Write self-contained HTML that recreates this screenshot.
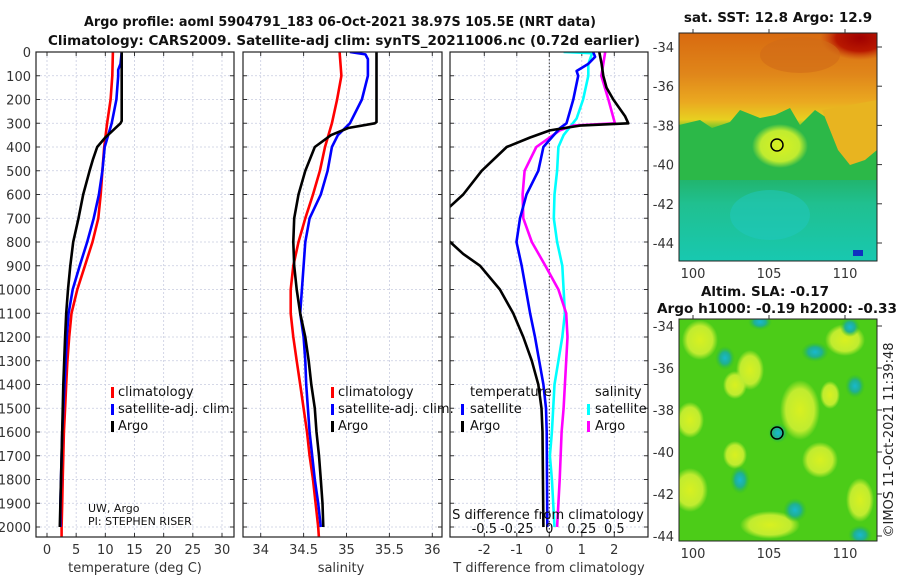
<!DOCTYPE html>
<html><head><meta charset="utf-8"><title>Argo profile</title>
<style>
html,body{margin:0;padding:0;background:#fff;}
svg{display:block;font-family:"DejaVu Sans","Liberation Sans",sans-serif;}
.tk{font-size:13px;fill:#333;}
.lg{font-size:13px;fill:#111;}
.tt{font-size:13.5px;font-weight:bold;fill:#111;font-family:"DejaVu Sans","Liberation Sans",sans-serif;}
</style></head>
<body>
<svg id="fig" width="900" height="580" viewBox="0 0 900 580" xmlns="http://www.w3.org/2000/svg">
<defs>
<clipPath id="c1"><rect x="36" y="52" width="198" height="485"/></clipPath>
<clipPath id="c2"><rect x="243" y="52" width="199" height="485"/></clipPath>
<clipPath id="c3"><rect x="450" y="52" width="198" height="485"/></clipPath>
<clipPath id="cm1"><rect x="679" y="33" width="198" height="228"/></clipPath>
<clipPath id="cm2"><rect x="679" y="319" width="198" height="222"/></clipPath>
<linearGradient id="sstg" x1="0" y1="0" x2="0" y2="1">
<stop offset="0" stop-color="#d86a10"/><stop offset="0.18" stop-color="#e0861a"/><stop offset="0.3" stop-color="#eaa820"/>
<stop offset="0.38" stop-color="#e8d020"/><stop offset="0.43" stop-color="#3cc030"/><stop offset="0.6" stop-color="#22b060"/>
<stop offset="0.75" stop-color="#20c090"/><stop offset="1" stop-color="#18c8b0"/></linearGradient>
<radialGradient id="yb"><stop offset="0" stop-color="#d8f020"/><stop offset="0.7" stop-color="#c0ec30"/><stop offset="1" stop-color="#c0ec30" stop-opacity="0"/></radialGradient>
<radialGradient id="tb"><stop offset="0" stop-color="#18b8d0"/><stop offset="0.5" stop-color="#20b090"/><stop offset="1" stop-color="#30c020" stop-opacity="0"/></radialGradient>
<radialGradient id="rb"><stop offset="0" stop-color="#a00000"/><stop offset="0.6" stop-color="#b81800"/><stop offset="1" stop-color="#c84010" stop-opacity="0"/></radialGradient>
</defs>
<g id="root"></g>
</svg>
<script>
// ---- temperature panel data ----
const tDepth = [0,100,200,300,400,500,600,700,800,900,1000,1100,1200,1300,1400,1500,1600,1700,1800,1900,2000,2050];
const tClim = [11.3,11.2,10.9,10.3,9.8,9.5,9.2,8.8,7.8,6.5,5.2,4.2,3.8,3.5,3.3,3.1,2.9,2.8,2.7,2.6,2.5,2.5];
const tSatDepth = [0,50,75,100,200,300,350,400,500,600,700,800,900,1000,1100,1200,1300,1400,1500,1600,1700,1800,1900,2000];
const tSat = [12.8,12.6,12.2,12.2,11.9,11.1,10.5,9.9,9.5,8.9,8.0,6.9,5.6,4.4,3.7,3.4,3.2,3.0,2.8,2.6,2.5,2.4,2.3,2.3];
const tArgoDepth = [0,290,300,330,360,400,450,500,600,700,800,900,1000,1100,1200,1400,1600,1800,2000];
const tArgo = [12.8,12.8,12.6,11.3,10.0,8.6,7.9,7.3,6.2,5.4,4.5,4.0,3.6,3.3,3.1,2.8,2.6,2.4,2.2];
// ---- salinity panel data ----
const sClimDepth = [0,100,200,300,400,500,600,700,800,900,1000,1100,1200,1300,1400,1500,1600,1700,1800,1900,2000,2050];
const sClim = [34.92,34.94,34.89,34.83,34.75,34.69,34.61,34.52,34.44,34.38,34.35,34.35,34.38,34.42,34.46,34.50,34.54,34.57,34.61,34.64,34.67,34.68];
const sSatDepth = [0,10,30,100,200,300,350,400,500,600,700,800,900,1000,1100,1200,1300,1400,1500,1600,1700,1800,1900,2000];
const sSat = [35.04,35.22,35.25,35.25,35.18,35.04,34.90,34.83,34.78,34.70,34.57,34.52,34.50,34.48,34.46,34.50,34.52,34.53,34.55,34.57,34.60,34.63,34.67,34.70];
const sArgoDepth = [0,295,300,320,350,400,500,600,700,800,900,1000,1100,1200,1300,1400,1500,1600,1700,1800,1900,2000];
const sArgo = [35.35,35.35,35.33,35.02,34.82,34.63,34.52,34.44,34.39,34.38,34.39,34.42,34.46,34.52,34.56,34.59,34.63,34.65,34.68,34.70,34.72,34.73];
// ---- difference panel data ----
const dTArgoDepth = [0,50,100,150,200,270,300,310,330,360,400,500,600,650,700,750,800,850,900,1000,1100,1200,1300,1400,1500,1600,2000];
const dTArgo = [1.54,1.61,1.66,1.76,1.97,2.33,2.43,0.94,0.02,-0.59,-1.31,-2.08,-2.65,-3.05,-3.6,-3.6,-3.05,-2.65,-2.13,-1.52,-1.11,-0.8,-0.54,-0.34,-0.24,-0.21,-0.18];
const dTSatDepth = [0,20,50,80,100,200,300,320,400,500,600,700,800,900,1000,1100,1200,1300,1400,1500,1600,2000];
const dTSat = [1.35,1.41,1.2,0.84,0.89,0.74,0.53,0.33,-0.18,-0.34,-0.70,-0.90,-1.01,-0.85,-0.72,-0.59,-0.44,-0.31,-0.18,-0.10,-0.08,-0.06];
const dSSatDepth = [0,5,50,100,200,280,350,400,500,600,700,800,900,1000,1100,1200,1300,1400,1500,1600,1700,1800,1900,2000];
const dSSat = [0.11,0.33,0.30,0.30,0.26,0.21,0.11,0.07,0.06,0.04,0.035,0.06,0.10,0.11,0.12,0.10,0.07,0.04,0.03,0.02,0.005,0.02,0.03,0.04];
const dSArgoDepth = [0,50,100,200,300,310,330,400,500,600,700,800,900,1000,1100,1200,1300,1400,1500,1600,1800,2000];
const dSArgo = [0.43,0.415,0.40,0.455,0.505,0.185,0.08,-0.10,-0.19,-0.205,-0.20,-0.135,-0.03,0.07,0.13,0.14,0.13,0.12,0.11,0.095,0.08,0.06];
// ---- tick labels ----
const depthTicks = [0,100,200,300,400,500,600,700,800,900,1000,1100,1200,1300,1400,1500,1600,1700,1800,1900,2000];
const tTicks = [0,5,10,15,20,25,30];
const sTicks = [34,34.5,35,35.5,36];
const dTTicks = [-2,-1,0,1,2];
const dSTicks = [-0.5,-0.25,0,0.25,0.5];
const dSTickLabels = ["-0.5","-0.25","0","0.25","0.5"];
const latTicks = [-34,-36,-38,-40,-42,-44];
const lonTicks = [100,105,110];

const NS = "http://www.w3.org/2000/svg";
const root = document.getElementById('root');
function mk(tag, attrs, parent){const e=document.createElementNS(NS,tag);for(const k in attrs)e.setAttribute(k,attrs[k]);(parent||root).appendChild(e);return e;}
const TOP=52, BOT=537;
const yD = d => TOP + d*0.2375;
const xT = t => 47 + t*5.833;
const xS = s => 260.7 + (s-34)*85.8;
const xD = t => 549.3 + t*32.5;
const xDS = s => 549.3 + s*130;

function panel(name,x0,x1,xticks,xf,clip){
  const g = mk('g',{});
  
  
  for(const d of depthTicks){
    const l = mk('line',{x1:x0,x2:x1,y1:yD(d),y2:yD(d),stroke:'#c8cce0','stroke-width':0.8,'stroke-dasharray':'2,2'},g);
    
    
    const t1 = mk('line',{x1:x0,x2:x0+4,y1:yD(d),y2:yD(d),stroke:'#333'},g);
    
    
    const t2 = mk('line',{x1:x1-4,x2:x1,y1:yD(d),y2:yD(d),stroke:'#333'},g);
    
    
  }
  for(const v of xticks){
    const l = mk('line',{x1:xf(v),x2:xf(v),y1:TOP,y2:BOT,stroke:'#c8cce0','stroke-width':0.8,'stroke-dasharray':'2,2'},g);
    
    
    const t1 = mk('line',{x1:xf(v),x2:xf(v),y1:BOT,y2:BOT-4,stroke:'#333'},g);
    
    
    const t2 = mk('line',{x1:xf(v),x2:xf(v),y1:TOP,y2:TOP+4,stroke:'#333'},g);
    
    
  }
  return g;
}
function series(name,depths,vals,xf,color,clip){
  let d='';
  for(let i=0;i<vals.length;i++){d+=(i?'L':'M')+xf(vals[i]).toFixed(1)+','+yD(depths[i]).toFixed(1);}
  const p = mk('path',{d:d,fill:'none',stroke:color,'stroke-width':2.6,'stroke-linejoin':'round','clip-path':'url(#'+clip+')'});
  
  
}
function frame(name,x0,x1){
  const r = mk('rect',{x:x0,y:TOP,width:x1-x0,height:BOT-TOP,fill:'none',stroke:'#222','stroke-width':1.2});
  
  
}
function text(name,x,y,str,cls,anchor,extra){
  const t = mk('text',Object.assign({x:x,y:y,'class':cls,'text-anchor':anchor||'start'},extra||{}));
  t.textContent = str;
  
  
  return t;
}
function legendMark(x,y,color){
  const m = mk('rect',{x:x,y:y-9,width:3,height:11,fill:color});
  
  
}

// titles
text('title-line-1',340,26,'Argo profile: aoml 5904791_183 06-Oct-2021 38.97S 105.5E (NRT data)','tt','middle',{textLength:512,lengthAdjust:'spacingAndGlyphs'});
text('title-line-2',344,45,'Climatology: CARS2009. Satellite-adj clim: synTS_20211006.nc (0.72d earlier)','tt','middle',{textLength:592,lengthAdjust:'spacingAndGlyphs'});

// panel 1 temperature
panel('temperature-panel',36,234,tTicks,xT,'c1');
series('temperature-climatology-line',tDepth,tClim,xT,'#ff0000','c1');
series('temperature-satellite-line',tSatDepth,tSat,xT,'#0000ff','c1');
series('temperature-argo-line',tArgoDepth,tArgo,xT,'#000000','c1');
frame('temperature-axes-frame',36,234);
for(const d of depthTicks) text('depth-tick-label',31,yD(d)+5,String(d),'tk','end');
for(const v of tTicks) text('temperature-tick-label',xT(v),554,String(v),'tk','middle');
text('temperature-axis-title',135,572,'temperature (deg C)','tk','middle');
legendMark(111,396,'#ff0000'); text('legend-climatology',118,396,'climatology','lg');
legendMark(111,413,'#0000ff'); text('legend-satellite-adj-clim',118,413,'satellite-adj. clim.','lg');
legendMark(111,430,'#000000'); text('legend-argo',118,430,'Argo','lg');
text('credit-uw-argo',88,512,'UW, Argo','tk','start',{style:'font-size:11px;fill:#111'});
text('credit-pi',88,525,'PI: STEPHEN RISER','tk','start',{style:'font-size:11px;fill:#111'});

// panel 2 salinity
panel('salinity-panel',243,442,sTicks,xS,'c2');
series('salinity-climatology-line',sClimDepth,sClim,xS,'#ff0000','c2');
series('salinity-satellite-line',sSatDepth,sSat,xS,'#0000ff','c2');
series('salinity-argo-line',sArgoDepth,sArgo,xS,'#000000','c2');
frame('salinity-axes-frame',243,442);
for(const v of sTicks) text('salinity-tick-label',xS(v),554,String(v),'tk','middle');
text('salinity-axis-title',341,572,'salinity','tk','middle');
legendMark(331,396,'#ff0000'); text('legend-climatology',338,396,'climatology','lg');
legendMark(331,413,'#0000ff'); text('legend-satellite-adj-clim',338,413,'satellite-adj. clim.','lg');
legendMark(331,430,'#000000'); text('legend-argo',338,430,'Argo','lg');

// panel 3 differences
panel('difference-panel',450,648,dTTicks,xD,'c3');
const zl = mk('line',{x1:xD(0),x2:xD(0),y1:TOP,y2:BOT,stroke:'#333','stroke-width':1,'stroke-dasharray':'1.5,2'});


series('salinity-diff-satellite-line',dSSatDepth,dSSat,xDS,'#00ffff','c3');
series('salinity-diff-argo-line',dSArgoDepth,dSArgo,xDS,'#ff00ff','c3');
series('temperature-diff-satellite-line',dTSatDepth,dTSat,xD,'#0000ff','c3');
series('temperature-diff-argo-line',dTArgoDepth,dTArgo,xD,'#000000','c3');
frame('difference-axes-frame',450,648);
for(const v of dTTicks) text('t-diff-tick-label',xD(v),554,String(v),'tk','middle');
text('t-diff-axis-title',549,572,'T difference from climatology','tk','middle');
text('s-diff-axis-title',548,519,'S difference from climatology','lg','middle');
for(let i=0;i<dSTicks.length;i++) text('s-diff-tick-label',xDS(dSTicks[i]),533,dSTickLabels[i],'lg','middle');
text('legend-temperature-heading',470,396,'temperature','lg');
legendMark(461,413,'#0000ff'); text('legend-t-satellite',470,413,'satellite','lg');
legendMark(461,430,'#000000'); text('legend-t-argo',470,430,'Argo','lg');
text('legend-salinity-heading',595,396,'salinity','lg');
legendMark(587,413,'#00ffff'); text('legend-s-satellite',595,413,'satellite','lg');
legendMark(587,430,'#ff00ff'); text('legend-s-argo',595,430,'Argo','lg');

// maps
const lonX = lon => 693 + (lon-100)*15.2;
function mapAxes(name,top,bot,latY){
  const r = mk('rect',{x:679,y:top,width:198,height:bot-top,fill:'none',stroke:'#222','stroke-width':1});
  
  
  for(const la of latTicks){
    const y = latY(la);
    text('map-lat-label',674,y+5,String(la),'tk','end');
    const t = mk('line',{x1:877,x2:882,y1:y,y2:y,stroke:'#333'});
    
    
  }
  for(const lo of lonTicks){
    text('map-lon-label',lonX(lo),bot+17,String(lo),'tk','middle');
    const t = mk('line',{x1:lonX(lo),x2:lonX(lo),y1:top-4,y2:top,stroke:'#333'});
    
    
  }
}
// SST map
const sstG = mk('g',{'clip-path':'url(#cm1)'});


mk('rect',{x:679,y:33,width:198,height:228,fill:'url(#sstg)'},sstG);
mk('path',{d:'M679,125 L700,120 L712,128 L730,122 L740,110 L760,118 L775,115 L790,108 L800,125 L815,110 L830,120 L840,128 L855,120 L877,115 L877,180 L679,180 Z',fill:'#2cb848'},sstG);
mk('path',{d:'M822,110 L850,105 L877,100 L877,150 L865,160 L850,165 L838,150 L830,130 Z',fill:'#e8b420'},sstG);
mk('ellipse',{cx:780,cy:146,rx:28,ry:22,fill:'url(#yb)'},sstG);
mk('ellipse',{cx:860,cy:38,rx:40,ry:22,fill:'url(#rb)'},sstG);
mk('ellipse',{cx:800,cy:55,rx:40,ry:18,fill:'#d06a18',opacity:0.6},sstG);
mk('ellipse',{cx:770,cy:215,rx:40,ry:25,fill:'#20c8c0',opacity:0.5},sstG);
mk('rect',{x:853,y:250,width:10,height:6,fill:'#1030c0'},sstG);
const c1 = mk('circle',{cx:777,cy:145,r:6,fill:'none',stroke:'#000','stroke-width':1.5});


mapAxes('sst-map-frame',33,261,la=>47+(-34-la)*19.6);
text('sst-map-title',778,22,'sat. SST: 12.8 Argo: 12.9','tt','middle');

// SLA map
const slaG = mk('g',{'clip-path':'url(#cm2)'});


mk('rect',{x:679,y:319,width:198,height:222,fill:'#4ccc18'},slaG);
const yb = [[700,340,18,20],[735,385,12,14],[690,420,14,18],[750,370,14,20],[800,410,20,30],[820,460,18,18],[690,490,18,22],[845,340,20,16],[770,525,30,14],[735,455,12,14],[860,500,14,22],[830,395,10,14]];
for(const b of yb) mk('ellipse',{cx:b[0],cy:b[1],rx:b[2],ry:b[3],fill:'url(#yb)'},slaG);
const tb = [[760,322,12,8],[725,358,10,12],[815,352,14,10],[855,386,10,12],[740,480,10,14],[795,510,12,12],[860,535,12,10],[850,327,10,10],[778,433,10,10]];
for(const b of tb) mk('ellipse',{cx:b[0],cy:b[1],rx:b[2],ry:b[3],fill:'url(#tb)'},slaG);
const c2 = mk('circle',{cx:777,cy:433,r:6,fill:'none',stroke:'#000','stroke-width':1.5});


mapAxes('sla-map-frame',319,541,la=>326+(-34-la)*21);
text('sla-map-title-1',765,296,'Altim. SLA: -0.17','tt','middle');
text('sla-map-title-2',777,313,'Argo h1000: -0.19 h2000: -0.33','tt','middle',{textLength:240,lengthAdjust:'spacingAndGlyphs'});
text('copyright-timestamp',0,0,'©IMOS 11-Oct-2021 11:39:48','tk','middle',{transform:'translate(893,440) rotate(-90)',style:'font-size:13px;fill:#222'});
</script>
</body></html>
